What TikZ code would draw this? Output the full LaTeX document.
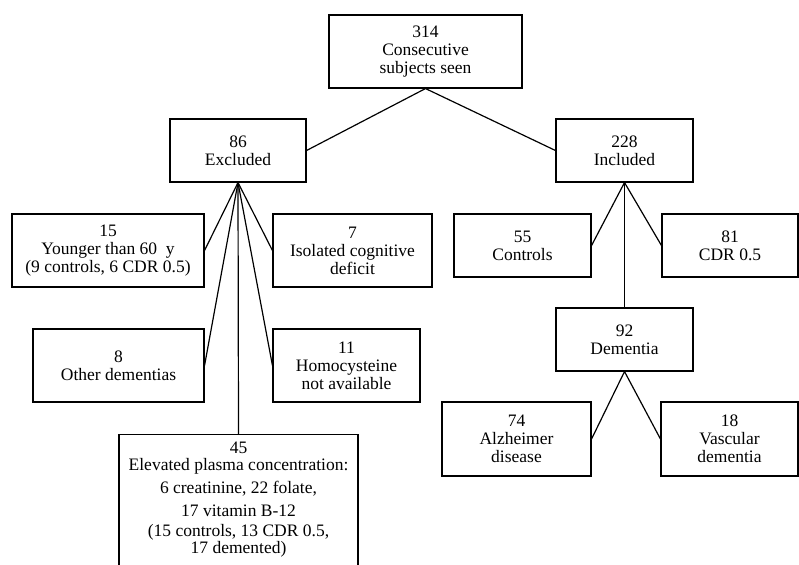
\documentclass[tikz,border=0pt]{standalone}
\usepackage{fontspec}
\setmainfont{Liberation Serif}
\tikzset{>=latex}
\tikzset{
	stage/.style={draw, line width=1.1pt, rectangle, inner sep=0pt, align=center, font=\fontsize{17.5}{18}\selectfont},
	link/.style={line width=1.2pt}
}

\begin{document}
\begin{tikzpicture}[x=1pt, y=-1pt]
    % \fill[white](0, 0)rectangle(799, 564);
    \useasboundingbox(0, 0)rectangle(799, 564);
    \clip(0, 0)rectangle(799, 564);
    \node[stage, minimum width=193, minimum height=73](seen) at (425.5, 51.5){314\\Consecutive\\subjects seen};
    \node[stage, minimum width=136, minimum height=63](excl) at (238, 150.5){86\\Excluded};
    \node[stage, minimum width=137, minimum height=63](incl) at (624.5, 150.5){228\\Included};
    \node[stage, minimum width=192, minimum height=73](young) at (108, 250.5){15\\Younger than 60\ \ y\\(9 controls, 6 CDR 0.5)};
    \node[stage, minimum width=159, minimum height=73](isol) at (352.5, 250.5){7\\Isolated cognitive\\deficit};
    \node[stage, minimum width=171, minimum height=73](other) at (118.5, 365.5){8\\Other dementias};
    \node[stage, minimum width=147, minimum height=73](homo) at (346.5, 365.5){11\\Homocysteine\\not available};
    \node[stage, anchor=north, minimum width=239, inner ysep=7pt](plasma) at (238.5, 434){45\\[-1pt]Elevated plasma concentration:\\[5pt]6 creatinine, 22 folate,\\[5pt]17 vitamin B-12\\[2pt](15 controls, 13 CDR 0.5,\\[-1pt]17 demented)\\[14pt]\mbox{}};
    \node[stage, minimum width=137, minimum height=63](ctrl) at (522.5, 245.5){55\\Controls};
    \node[stage, minimum width=136, minimum height=63](cdr) at (730, 245.5){81\\CDR 0.5};
    \node[stage, minimum width=137, minimum height=63](dem) at (624.5, 339.5){92\\Dementia};
    \node[stage, minimum width=149, minimum height=74](alz) at (516.5, 439){74\\Alzheimer\\disease};
    \node[stage, minimum width=137, minimum height=74](vasc) at (729.5, 439){18\\Vascular\\dementia};
    \draw[link](excl.east)--(seen.south)--(incl.west);
    \foreach \k in {young.east, isol.west, other.east, homo.west, plasma.north}
        \draw[link](excl.south)--(\k);
    \foreach \k in {ctrl.east, cdr.west, dem.north}
        \draw[link](incl.south)--(\k);
    \draw[link](alz.east)--(dem.south)--(vasc.west);
\end{tikzpicture}
\end{document}
